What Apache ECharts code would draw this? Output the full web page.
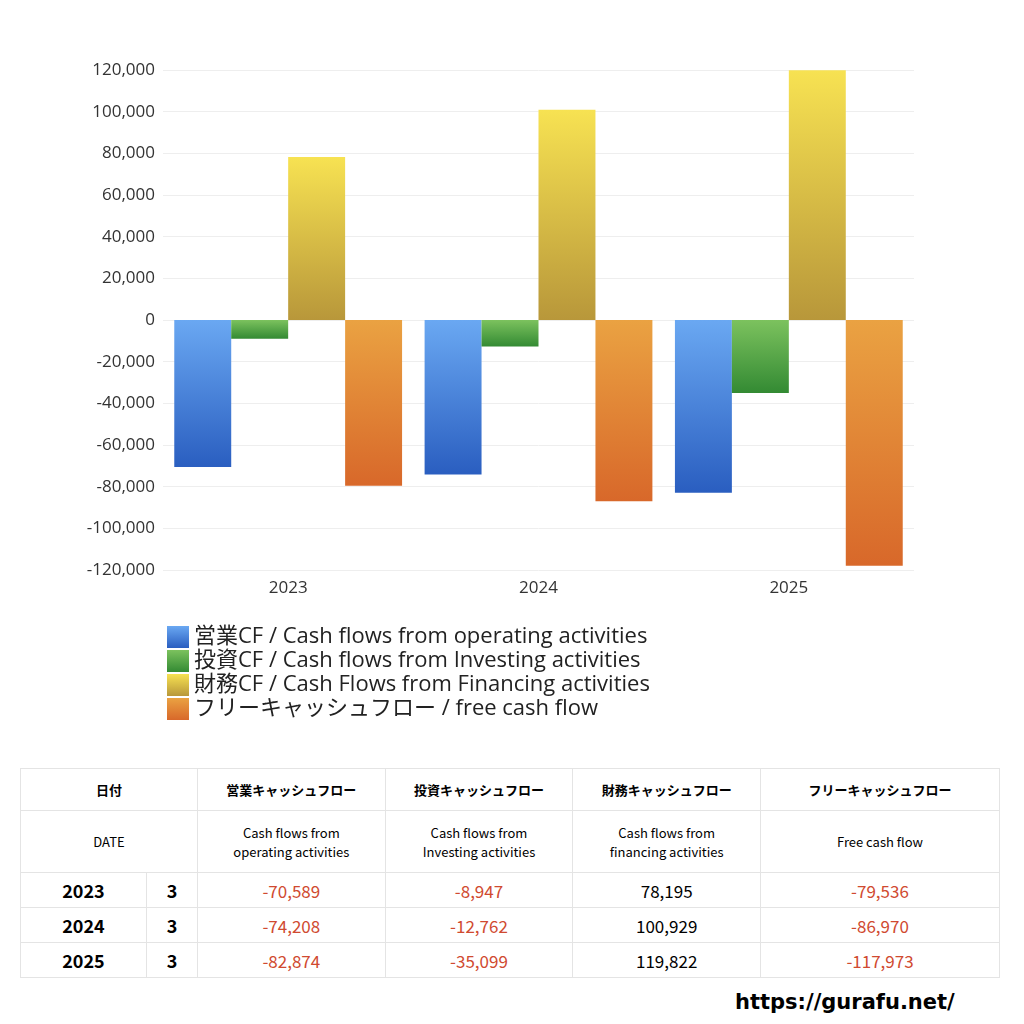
<!DOCTYPE html>
<html><head><meta charset="utf-8">
<script src="https://cdn.jsdelivr.net/npm/echarts@6/dist/echarts.min.js"></script>
<style>
body{margin:0;background:#fff;font-family:"Noto Sans CJK JP",sans-serif;}
#chart{position:absolute;left:0;top:0;width:1024px;height:740px;}
table{position:absolute;left:20px;top:768px;width:980px;border-collapse:collapse;font-size:13px;}
td{border:1px solid #e4e4e4;text-align:center;padding:0;}
.h1 td{height:41px;font-weight:bold;}
.h2 td{height:61px;}
.d td{height:34px;font-size:17px;}
.d td.y{font-weight:bold;font-size:18px;}
.neg{color:#d04a30;}
#url{position:absolute;left:735px;top:990px;font-size:21px;font-weight:bold;font-family:"DejaVu Sans",sans-serif;}
</style></head><body>
<div id="chart"></div>
<table id="tbl"></table>
<div id="url">https://gurafu.net/</div>
<script>
var years = ['2023', '2024', '2025'];
var operating = [-70589, -74208, -82874];
var investing = [-8947, -12762, -35099];
var financing = [78195, 100929, 119822];
var freeCF = [-79536, -86970, -117973];
var names = ['営業CF / Cash flows from operating activities', '投資CF / Cash flows from Investing activities',
  '財務CF / Cash Flows from Financing activities', 'フリーキャッシュフロー / free cash flow'];

function grad(a, b) {
  return new echarts.graphic.LinearGradient(0, 0, 0, 1, [{offset: 0, color: a}, {offset: 1, color: b}]);
}
var colors = [grad('#6aa8f2', '#2a5ec0'), grad('#7cc25e', '#338a33'), grad('#f7e252', '#b8973a'), grad('#eaa242', '#d8682a')];
var data = [operating, investing, financing, freeCF];

var myChart = echarts.init(document.getElementById('chart'));
option = {
  animation: false,
  textStyle: {fontFamily: 'Noto Sans CJK JP'},
  grid: {left: 163, right: 110, top: 70, bottom: 170},
  legend: {
    orient: 'vertical', left: 162, top: 621, itemWidth: 22, itemHeight: 22, itemGap: 2, icon: 'rect',
    textStyle: {fontSize: 22, color: '#222', fontFamily: 'Open Sans, Noto Sans CJK JP'}
  },
  xAxis: {
    type: 'category', data: years,
    axisLine: {show: false}, axisTick: {show: false},
    axisLabel: {fontSize: 17, color: '#333', margin: 10, fontFamily: 'Open Sans'}
  },
  yAxis: {
    type: 'value', min: -120000, max: 120000, interval: 20000,
    axisLabel: {fontSize: 17, color: '#333', fontFamily: 'Open Sans', formatter: function (v) { return v.toLocaleString('en-US'); }},
    splitLine: {lineStyle: {color: '#eee'}}
  },
  series: data.map(function (d, i) {
    return {name: names[i], type: 'bar', data: d, barGap: 0, barCategoryGap: '9%',
      itemStyle: {color: colors[i]}};
  })
};
myChart.setOption(option);

var fmt = function (v) { return v.toLocaleString('en-US'); };
var html = '<tr class="h1"><td colspan="2">日付</td><td>営業キャッシュフロー</td><td>投資キャッシュフロー</td><td>財務キャッシュフロー</td><td style="width:238px">フリーキャッシュフロー</td></tr>' +
  '<tr class="h2"><td colspan="2">DATE</td><td>Cash flows from<br>operating activities</td><td>Cash flows from<br>Investing activities</td><td>Cash flows from<br>financing activities</td><td>Free cash flow</td></tr>';
years.forEach(function (y, i) {
  html += '<tr class="d"><td class="y" style="width:125px">' + y + '</td><td class="y" style="width:50px">3</td>';
  data.forEach(function (d) {
    html += '<td class="' + (d[i] < 0 ? 'neg' : '') + '">' + fmt(d[i]) + '</td>';
  });
  html += '</tr>';
});
document.getElementById('tbl').innerHTML = html;
</script>
</body></html>
